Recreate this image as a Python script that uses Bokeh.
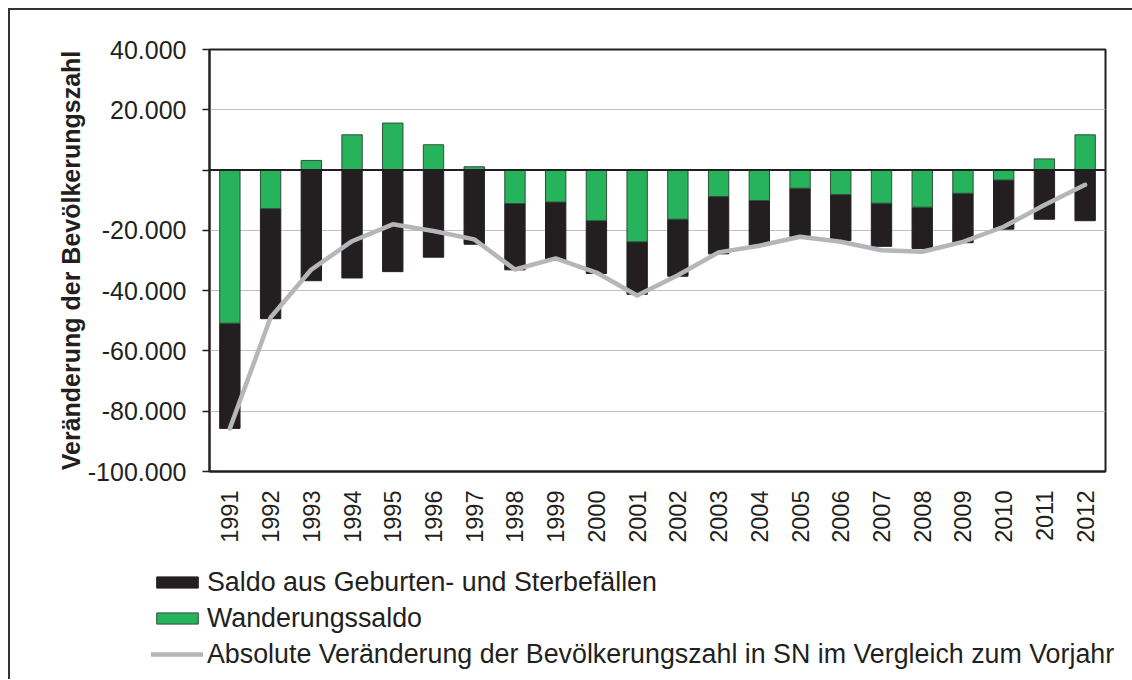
import math
from bokeh.plotting import figure
from bokeh.layouts import column
from bokeh.models import (ColumnDataSource, FactorRange, FixedTicker, Span, Legend,
                          LegendItem)
from bokeh.embed import file_html
from bokeh.resources import INLINE

# ---- data ----
years = [str(y) for y in range(1991, 2013)]
natural_balance = [-34.9, -36.5, -36.7, -35.8, -33.7, -28.9, -24.6, -22.0, -19.3, -17.5, -17.4,
                   -18.9, -19.0, -14.8, -16.1, -15.3, -14.3, -13.7, -16.4, -16.3, -16.3, -16.8]
migration_balance = [-50.8, -12.8, 3.2, 11.7, 15.6, 8.4, 1.1, -11.1, -10.6, -16.8, -23.8,
                     -16.3, -8.8, -10.1, -6.0, -8.1, -11.0, -12.3, -7.7, -3.3, 3.7, 11.7]
absolute_change = [-85.7, -48.9, -33.0, -23.6, -18.0, -20.2, -23.0, -33.0, -29.3, -34.0, -41.6,
                   -34.9, -27.3, -25.1, -22.1, -23.8, -26.6, -27.1, -23.8, -18.8, -11.6, -4.9]
y_ticks = [-100000, -80000, -60000, -40000, -20000, 0, 20000, 40000]
y_tick_labels = ["-100.000", "-80.000", "-60.000", "-40.000", "-20.000", "", "20.000", "40.000"]

series_names = ["Saldo aus Geburten- und Sterbefällen", "Wanderungssaldo",
                "Absolute Veränderung der Bevölkerungszahl in SN im Vergleich zum Vorjahr"]

# ---- stacking (green nearest zero, black beyond) ----
nat = [v * 1000 for v in natural_balance]
mig = [v * 1000 for v in migration_balance]
tot = [v * 1000 for v in absolute_change]

g_top, g_bot, b_top, b_bot = [], [], [], []
for n, g in zip(nat, mig):
    g_top.append(max(g, 0)); g_bot.append(min(g, 0))
    if n < 0:
        b_top.append(min(g, 0)); b_bot.append(min(g, 0) + n)
    else:
        b_bot.append(max(g, 0)); b_top.append(max(g, 0) + n)

src = ColumnDataSource(dict(x=years, g_top=g_top, g_bot=g_bot, b_top=b_top, b_bot=b_bot, tot=tot))

DARK = "#231f20"
GREEN = "#27b35b"
GREEN_EDGE = "#2f4f3a"
GRAY = "#b4b6b9"
FRAME = "#333333"
FONT = "Liberation Sans"

# ---------------- main chart ----------------
p = figure(x_range=FactorRange(*years, range_padding=0), y_range=(-100000, 40000),
           frame_width=894, frame_height=420,
           min_border_left=199, min_border_right=29, min_border_top=39, min_border_bottom=86,
           output_backend="svg", toolbar_location=None, background_fill_color="white",
           border_fill_color="white")
p.margin = (8, 0, 0, 8)
p.styles = {"border-left": f"2px solid {FRAME}", "border-top": f"2px solid {FRAME}"}

black_r = p.vbar(x="x", top="b_top", bottom="b_bot", width=0.5, source=src,
                 fill_color=DARK, line_color=DARK, line_width=1)
green_r = p.vbar(x="x", top="g_top", bottom="g_bot", width=0.5, source=src,
                 fill_color=GREEN, line_color=GREEN_EDGE, line_width=1)
line_r = p.line(x="x", y="tot", source=src, line_color=GRAY, line_width=4.5,
                line_cap="round", line_join="round")

p.add_layout(Span(location=0, dimension="width", line_color=DARK, line_width=2))

p.xgrid.grid_line_color = None
p.ygrid.grid_line_color = "#c0c0c0"
p.ygrid.grid_line_width = 1
p.ygrid.ticker = FixedTicker(ticks=y_ticks)
p.outline_line_color = DARK
p.outline_line_width = 2
p.outline_line_alpha = 1

p.yaxis.ticker = FixedTicker(ticks=y_ticks)
p.yaxis.major_label_overrides = {t: l for t, l in zip(y_ticks, y_tick_labels)}
p.yaxis.major_label_text_font = FONT
p.yaxis.major_label_text_font_size = "25px"
p.yaxis.major_label_text_color = DARK
p.yaxis.major_tick_out = 7
p.yaxis.major_tick_in = 0
p.yaxis.major_tick_line_color = DARK
p.yaxis.major_tick_line_width = 1.5
p.yaxis.minor_tick_line_color = None
p.yaxis.axis_line_color = DARK
p.yaxis.axis_line_width = 2
p.yaxis.major_label_standoff = 16
p.yaxis.axis_label = "Veränderung der Bevölkerungszahl"
p.yaxis.axis_label_text_font = FONT
p.yaxis.axis_label_text_font_style = "bold"
p.yaxis.axis_label_text_font_size = "25px"
p.yaxis.axis_label_text_color = DARK
p.yaxis.axis_label_standoff = 0

p.xaxis.major_label_orientation = math.pi / 2
p.xaxis.major_label_text_font = FONT
p.xaxis.major_label_text_font_size = "23.5px"
p.xaxis.major_label_text_color = DARK
p.xaxis.major_tick_line_color = None
p.xaxis.major_tick_out = 0
p.xaxis.major_tick_in = 0
p.xaxis.major_label_standoff = 19
p.xaxis.axis_line_color = DARK
p.xaxis.axis_line_width = 2

# ---------------- legend strip below ----------------
q = figure(width=1122, height=124, x_range=(0, 1), y_range=(0, 1), min_border=0,
           x_axis_type=None, y_axis_type=None, output_backend="svg", toolbar_location=None,
           background_fill_color="white", border_fill_color="white")
q.outline_line_color = None
q.grid.visible = False
q.margin = (0, 0, 0, 8)
q.styles = {"border-left": f"2px solid {FRAME}"}
aligned = True
try:
    q.frame_align = False
    p.frame_align = False
    aligned = False
except Exception:
    pass

# legend swatches only (placed outside the visible range of the strip)
lg_black = q.vbar(x=[-5], top=[-5], bottom=[-6], width=0.5, fill_color=DARK,
                  line_color=DARK, line_width=1)
lg_green = q.vbar(x=[-5], top=[-5], bottom=[-6], width=0.5, fill_color=GREEN,
                  line_color=GREEN_EDGE, line_width=1)
lg_line = q.line(x=[-5, -4], y=[-5, -5], line_color=GRAY, line_width=4.5, line_cap="round")

legend = Legend(items=[LegendItem(label=series_names[0], renderers=[lg_black]),
                       LegendItem(label=series_names[1], renderers=[lg_green]),
                       LegendItem(label=series_names[2], renderers=[lg_line])],
                location=(141 if not aligned else -58, 7), orientation="vertical",
                glyph_width=52, glyph_height=14, label_standoff=4, label_height=36,
                spacing=0, padding=0, margin=0,
                label_text_font=FONT, label_text_font_size="26.8px", label_text_color=DARK,
                border_line_color=None, background_fill_alpha=0)
q.add_layout(legend, "center")

layout = column(p, q, spacing=0)
open("out.html", "w").write(file_html(layout, INLINE))
